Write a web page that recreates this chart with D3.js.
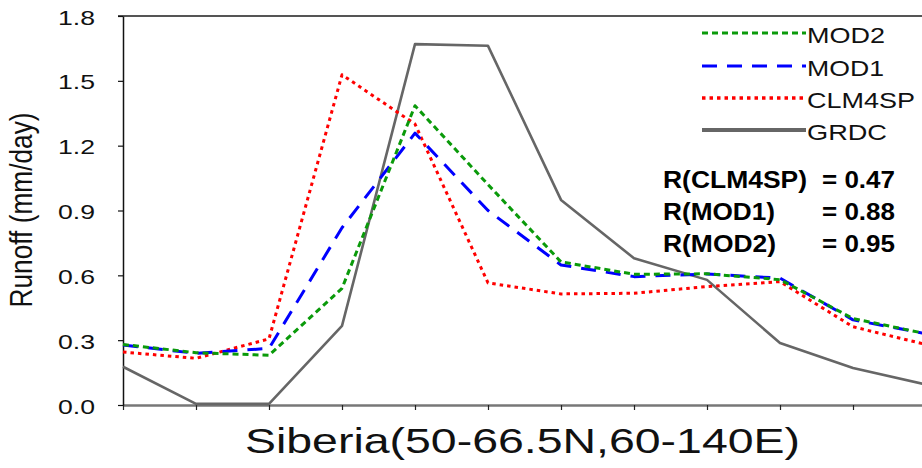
<!DOCTYPE html>
<html>
<head>
<meta charset="utf-8">
<script src="https://cdn.jsdelivr.net/npm/d3@7"></script>
<style>
  html, body { margin: 0; padding: 0; background: #fff; }
  svg { display: block; font-family: "Liberation Sans", Arial, Helvetica, sans-serif; }
</style>
</head>
<body>
<svg id="chart" width="922" height="468"></svg>
<script>
// ---- data ----
const months = [0, 1, 2, 3, 4, 5, 6, 7, 8, 9, 10, 11];
const mod2   = [0.28, 0.242, 0.23, 0.54, 1.385, 1.02, 0.662, 0.605, 0.607, 0.58, 0.40, 0.33];
const mod1   = [0.278, 0.239, 0.262, 0.82, 1.258, 0.90, 0.648, 0.594, 0.606, 0.587, 0.394, 0.33];
const clm4sp = [0.245, 0.216, 0.306, 1.528, 1.30, 0.565, 0.514, 0.517, 0.548, 0.571, 0.362, 0.28];
const grdc   = [0.177, 0.005, 0.005, 0.366, 1.67, 1.662, 0.949, 0.679, 0.579, 0.287, 0.171, 0.095];
const yTicks = [0.0, 0.3, 0.6, 0.9, 1.2, 1.5, 1.8];
const seriesNames = ["MOD2", "MOD1", "CLM4SP", "GRDC"];
const rLabels = ["R(CLM4SP)", "R(MOD1)", "R(MOD2)"];
const rValues = ["= 0.47", "= 0.88", "= 0.95"];
const titleText = "Siberia(50-66.5N,60-140E)";
const yLabelText = "Runoff (mm/day)";

// ---- layout ----
const svg = d3.select("#chart");
const x = d3.scaleLinear().domain([0, 11]).range([123, 926]);
const y = d3.scaleLinear().domain([0, 1.8]).range([405, 16]);

const styles = {
  MOD2:   { data: mod2,   color: "#0a9a0a", width: 3,   dash: "6,4",  lw: 3 },
  MOD1:   { data: mod1,   color: "#0000ff", width: 3,   dash: "15,10", lw: 3 },
  CLM4SP: { data: clm4sp, color: "#ff0000", width: 3,   dash: "3.5,4", lw: 3.5 },
  GRDC:   { data: grdc,   color: "#666666", width: 2.6, dash: null,   lw: 4 }
};

// x axis
svg.append("g")
  .attr("transform", "translate(0,405)")
  .call(d3.axisBottom(x).tickValues(months).tickSize(5).tickSizeOuter(0).tickFormat(""))
  .call(g => g.select(".domain").attr("stroke", "#777").attr("stroke-width", 2.5))
  .call(g => g.selectAll(".tick line").attr("stroke", "#222").attr("stroke-width", 1.2));

// top border
svg.append("line")
  .attr("x1", 118).attr("x2", 922)
  .attr("y1", y(1.8)).attr("y2", y(1.8))
  .attr("stroke", "#555").attr("stroke-width", 2);

// y axis
const yAxis = svg.append("g")
  .attr("transform", "translate(123,0)")
  .call(d3.axisLeft(y).tickValues(yTicks).tickSize(5).tickSizeOuter(0).tickFormat(""))
  .call(g => g.select(".domain").attr("stroke", "#111").attr("stroke-width", 1.5))
  .call(g => g.selectAll(".tick line").attr("stroke", "#111").attr("stroke-width", 1.2));

svg.append("g").selectAll("text")
  .data(yTicks)
  .join("text")
  .attr("x", 95)
  .attr("y", d => y(d) + 8.5)
  .attr("text-anchor", "end")
  .attr("font-size", 21)
  .attr("fill", "#111")
  .attr("textLength", 37)
  .attr("lengthAdjust", "spacingAndGlyphs")
  .text(d => d.toFixed(1));

// y label
svg.append("text")
  .attr("transform", "translate(32,210) rotate(-90)")
  .attr("text-anchor", "middle")
  .attr("font-size", 31)
  .attr("fill", "#111")
  .attr("textLength", 195)
  .attr("lengthAdjust", "spacingAndGlyphs")
  .text(yLabelText);

// title
svg.append("text")
  .attr("x", 245)
  .attr("y", 453)
  .attr("font-size", 35)
  .attr("fill", "#111")
  .attr("textLength", 555)
  .attr("lengthAdjust", "spacingAndGlyphs")
  .text(titleText);

// lines
const line = d3.line().x((d, i) => x(months[i])).y(d => y(d));
const drawOrder = ["GRDC", "CLM4SP", "MOD1", "MOD2"];
drawOrder.forEach(name => {
  const s = styles[name];
  svg.append("path")
    .datum(s.data)
    .attr("d", line)
    .attr("fill", "none")
    .attr("stroke", s.color)
    .attr("stroke-width", s.width)
    .attr("stroke-dasharray", s.dash)
    .attr("stroke-linejoin", "round");
});

// legend
const legendY = [33, 66, 98, 130];
const legendTextLen = { MOD2: 78, MOD1: 77, CLM4SP: 108, GRDC: 80 };
const lg = svg.append("g");
seriesNames.forEach((name, i) => {
  const s = styles[name];
  lg.append("line")
    .attr("x1", 702).attr("x2", 806)
    .attr("y1", legendY[i]).attr("y2", legendY[i])
    .attr("stroke", s.color)
    .attr("stroke-width", s.lw)
    .attr("stroke-dasharray", s.dash);
  lg.append("text")
    .attr("x", 807)
    .attr("y", legendY[i] + 10)
    .attr("font-size", 22)
    .attr("fill", "#111")
    .attr("textLength", legendTextLen[name])
    .attr("lengthAdjust", "spacingAndGlyphs")
    .text(name);
});

// correlation text
const rBase = [188, 220, 252];
const rLen = [144, 112, 113];
rLabels.forEach((t, i) => {
  svg.append("text")
    .attr("x", 663).attr("y", rBase[i])
    .attr("font-size", 23).attr("font-weight", "bold").attr("fill", "#000")
    .attr("textLength", rLen[i]).attr("lengthAdjust", "spacingAndGlyphs")
    .text(t);
  svg.append("text")
    .attr("x", 822).attr("y", rBase[i])
    .attr("font-size", 23).attr("font-weight", "bold").attr("fill", "#000")
    .attr("textLength", 73).attr("lengthAdjust", "spacingAndGlyphs")
    .text(rValues[i]);
});
</script>
</body>
</html>
